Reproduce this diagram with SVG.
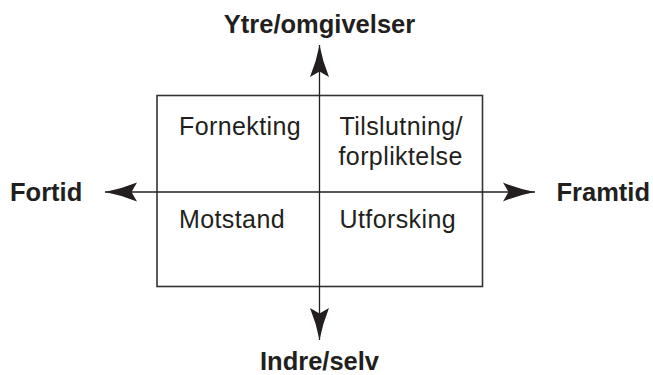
<svg xmlns="http://www.w3.org/2000/svg" width="653" height="375" viewBox="0 0 653 375">
  <style>
    .bold { font-family: "Liberation Sans", Arial, sans-serif; font-weight: bold; font-size: 25.5px; fill: #231f20; }
    .cell { font-family: "Liberation Sans", Arial, sans-serif; font-size: 25px; letter-spacing: 0.4px; fill: #231f20; }
    .box { fill: none; stroke: #333333; stroke-width: 1.6; }
    .axis { fill: none; stroke: #231f20; stroke-width: 1.3; }
  </style>
  <defs>
    <marker id="arrow" markerUnits="userSpaceOnUse" viewBox="-33 -11 34 22" refX="0" refY="0" markerWidth="34" markerHeight="22" orient="auto-start-reverse">
      <path d="M0,0 Q-16,-3 -32,-9.5 L-26.5,0 L-32,9.5 Q-16,3 0,0 Z" fill="#231f20"/>
    </marker>
  </defs>

  <g id="frame">
    <rect class="box" x="157" y="95.5" width="325.5" height="191"/>
  </g>

  <g id="connectors">
    <line class="axis" x1="105" y1="192" x2="535" y2="192" marker-start="url(#arrow)" marker-end="url(#arrow)"/>
    <line class="axis" x1="319.5" y1="45" x2="319.5" y2="340" marker-start="url(#arrow)" marker-end="url(#arrow)"/>
  </g>

  <g id="ytre"><text class="bold" x="319.5" y="33" text-anchor="middle">Ytre/omgivelser</text></g>
  <g id="indre"><text class="bold" x="319.5" y="370" text-anchor="middle">Indre/selv</text></g>
  <g id="fortid"><text class="bold" x="10" y="201">Fortid</text></g>
  <g id="framtid"><text class="bold" x="556.5" y="201">Framtid</text></g>

  <g id="fornekting"><text class="cell" x="179" y="135">Fornekting</text></g>
  <g id="tilslutning">
    <text class="cell" x="339.5" y="135">Tilslutning/</text>
    <text class="cell" x="338.5" y="165">forpliktelse</text>
  </g>
  <g id="motstand"><text class="cell" x="179" y="228">Motstand</text></g>
  <g id="utforsking"><text class="cell" x="339.5" y="228">Utforsking</text></g>
</svg>
